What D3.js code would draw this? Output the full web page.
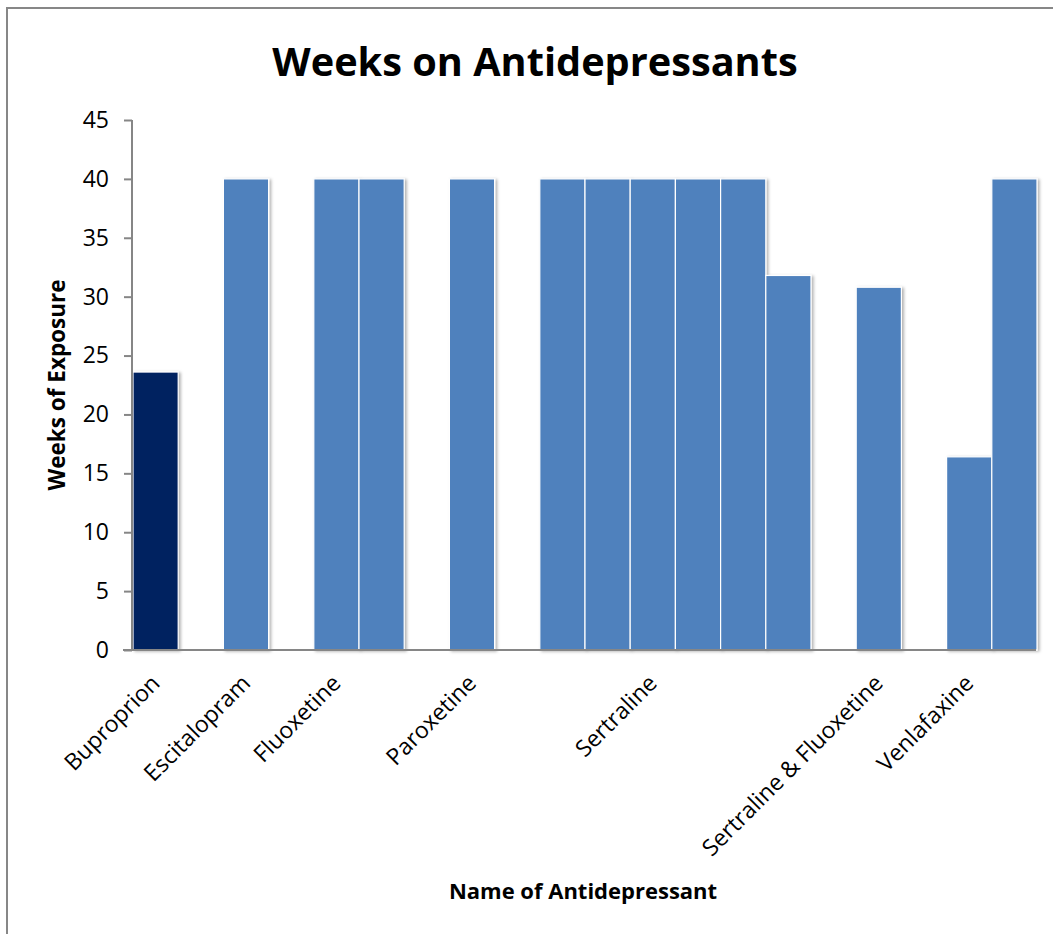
<!DOCTYPE html>
<html>
<head>
<meta charset="utf-8">
<script src="https://cdn.jsdelivr.net/npm/d3@7"></script>
<style>
  html, body { margin: 0; padding: 0; background: #fff; }
  svg { display: block; font-family: "Open Sans", "Liberation Sans", sans-serif; }
</style>
</head>
<body>
<svg id="chart" width="1053" height="934"></svg>
<script>
// One row per slot on the category axis; blank rows leave gaps between drugs.
const categories = [
  "Buproprion", "", "Escitalopram", "", "Fluoxetine", "", "", "Paroxetine", "",
  "", "", "Sertraline", "", "", "", "", "Sertraline & Fluoxetine", "", "Venlafaxine", ""
];
const weeks = [
  23.6, null, 40, null, 40, 40, null, 40, null,
  40, 40, 40, 40, 40, 31.8, null, 30.8, null, 16.4, 40
];
const yTicks = [0, 5, 10, 15, 20, 25, 30, 35, 40, 45];

const title = "Weeks on Antidepressants";
const xTitle = "Name of Antidepressant";
const yTitle = "Weeks of Exposure";

const svg = d3.select("#chart");
const W = 1053, H = 934;
const plot = { left: 132, right: 1036, top: 120, bottom: 650 };

// chart frame
svg.append("path")
  .attr("d", `M7,${H} L7,8 L${W},8`)
  .attr("fill", "none")
  .attr("stroke", "#878787")
  .attr("stroke-width", 2);

const defs = svg.append("defs");
const f = defs.append("filter").attr("id", "barShadow")
  .attr("x", "-20%").attr("y", "-5%").attr("width", "150%").attr("height", "115%");
f.append("feDropShadow")
  .attr("dx", 2).attr("dy", 1).attr("stdDeviation", 1.5)
  .attr("flood-color", "#000").attr("flood-opacity", 0.3);

const x = d3.scaleBand()
  .domain(d3.range(categories.length))
  .range([plot.left + 1, plot.right + 1])
  .paddingInner(0).paddingOuter(0);

const y = d3.scaleLinear().domain([0, 45]).range([plot.bottom, plot.top]);

// bars
const rows = weeks.map((v, i) => ({ i, v })).filter(d => d.v !== null);
svg.append("g").selectAll("rect").data(rows).join("rect")
  .attr("x", d => x(d.i))
  .attr("y", d => y(d.v))
  .attr("width", x.bandwidth())
  .attr("height", d => y(0) - y(d.v))
  .attr("fill", d => d.i === 0 ? "#002060" : "#4f81bd")
  .attr("stroke", "#fff")
  .attr("stroke-width", 1.2)
  .attr("filter", "url(#barShadow)");

// y axis
const yAxis = d3.axisLeft(y).tickValues(yTicks).tickSize(8).tickPadding(15);
const gy = svg.append("g").attr("transform", `translate(${plot.left},0)`).call(yAxis);
gy.select(".domain").attr("stroke", "#868686").attr("stroke-width", 2)
  .attr("d", `M0,${plot.top}V${plot.bottom}`);
gy.selectAll(".tick line").attr("stroke", "#868686").attr("stroke-width", 2);
gy.selectAll(".tick text")
  .attr("fill", "#000")
  .style("font-size", "23px")
  .style("font-family", "'Open Sans', sans-serif");

// x axis baseline
const xAxis = d3.axisBottom(x).tickSize(0).tickFormat(i => categories[i]);
const gx = svg.append("g").attr("transform", `translate(0,${plot.bottom})`).call(xAxis);
gx.select(".domain").attr("stroke", "#868686").attr("stroke-width", 2)
  .attr("d", `M${plot.left - 9},0H${plot.right}`);
gx.selectAll(".tick").filter(i => !categories[i]).remove();
gx.selectAll(".tick text")
  .attr("fill", "#000")
  .attr("text-anchor", "end")
  .attr("x", 0).attr("y", 0).attr("dy", "0.72em")
  .attr("transform", "translate(-6,23) rotate(-45)")
  .style("font-size", "23px")
  .style("font-family", "'Open Sans', sans-serif");

// titles
svg.append("text")
  .attr("x", 535).attr("y", 76)
  .attr("text-anchor", "middle")
  .style("font-size", "39.7px").style("font-weight", 700)
  .text(title);

svg.append("text")
  .attr("x", 583).attr("y", 899)
  .attr("text-anchor", "middle")
  .style("font-size", "22px").style("font-weight", 700)
  .text(xTitle);

svg.append("text")
  .attr("transform", "translate(65,385) rotate(-90)")
  .attr("text-anchor", "middle")
  .style("font-size", "22.5px").style("font-weight", 700)
  .text(yTitle);
</script>
</body>
</html>
